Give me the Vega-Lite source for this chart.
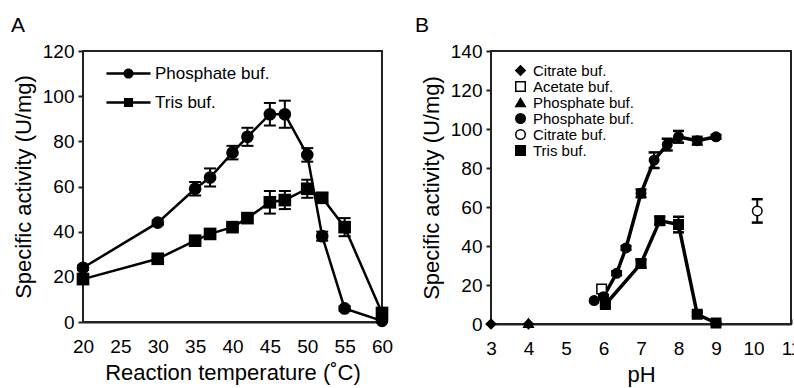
{
  "$schema": "https://vega.github.io/schema/vega-lite/v6.json",
  "padding": {"left": 10, "top": 14, "right": 8, "bottom": 4},
  "spacing": 20,
  "config": {
    "font": "Liberation Sans",
    "view": {"stroke": "#222222", "strokeWidth": 2},
    "axis": {"grid": false, "domain": true, "domainColor": "#222222", "domainWidth": 2, "ticks": true, "tickColor": "#222222", "tickWidth": 2, "labelOverlap": false, "labelFont": "Liberation Sans", "labelFontSize": 19, "labelColor": "black", "titleFont": "Liberation Sans", "titleFontSize": 22, "titleFontWeight": "normal", "titleColor": "black"},
    "title": {"fontSize": 21, "fontWeight": "normal", "anchor": "start", "frame": "group", "color": "black", "font": "Liberation Sans"}
  },
  "resolve": {"scale": {"shape": "independent", "fill": "independent", "stroke": "independent"}, "legend": {"shape": "independent", "fill": "independent", "stroke": "independent"}},
  "hconcat": [
    {
      "width": 299,
      "height": 271,
      "title": {"text": "A", "dx": -72, "offset": 6},
      "data": {"values": [
        {"s": "Phosphate buf.", "T": 20, "v": 24, "lo": 23, "hi": 25},
        {"s": "Phosphate buf.", "T": 30, "v": 44, "lo": 43, "hi": 45},
        {"s": "Phosphate buf.", "T": 35, "v": 59, "lo": 56, "hi": 62},
        {"s": "Phosphate buf.", "T": 37, "v": 64, "lo": 60, "hi": 68},
        {"s": "Phosphate buf.", "T": 40, "v": 75, "lo": 72, "hi": 78},
        {"s": "Phosphate buf.", "T": 42, "v": 82, "lo": 78, "hi": 86},
        {"s": "Phosphate buf.", "T": 45, "v": 92, "lo": 87, "hi": 97},
        {"s": "Phosphate buf.", "T": 47, "v": 92, "lo": 86, "hi": 98},
        {"s": "Phosphate buf.", "T": 50, "v": 74, "lo": 71, "hi": 77},
        {"s": "Phosphate buf.", "T": 52, "v": 38, "lo": 36, "hi": 40},
        {"s": "Phosphate buf.", "T": 55, "v": 6, "lo": 5, "hi": 7},
        {"s": "Phosphate buf.", "T": 60, "v": 0.5, "lo": 0, "hi": 1},
        {"s": "Tris buf.", "T": 20, "v": 19, "lo": 18, "hi": 20},
        {"s": "Tris buf.", "T": 30, "v": 28, "lo": 27, "hi": 29},
        {"s": "Tris buf.", "T": 35, "v": 36, "lo": 35, "hi": 37},
        {"s": "Tris buf.", "T": 37, "v": 39, "lo": 38, "hi": 40},
        {"s": "Tris buf.", "T": 40, "v": 42, "lo": 41, "hi": 43},
        {"s": "Tris buf.", "T": 42, "v": 46, "lo": 45, "hi": 47},
        {"s": "Tris buf.", "T": 45, "v": 53, "lo": 48, "hi": 58},
        {"s": "Tris buf.", "T": 47, "v": 54, "lo": 50, "hi": 58},
        {"s": "Tris buf.", "T": 50, "v": 59, "lo": 55, "hi": 63},
        {"s": "Tris buf.", "T": 52, "v": 55, "lo": 53, "hi": 57},
        {"s": "Tris buf.", "T": 55, "v": 42, "lo": 38, "hi": 46},
        {"s": "Tris buf.", "T": 60, "v": 4, "lo": 3, "hi": 5}
      ]},
      "encoding": {
        "x": {"field": "T", "type": "quantitative", "scale": {"domain": [20, 60], "nice": false, "zero": false}, "axis": {"values": [20, 25, 30, 35, 40, 45, 50, 55, 60], "title": "Reaction temperature (˚C)", "grid": false, "domain": true, "domainColor": "#222222", "domainWidth": 2, "ticks": true, "tickColor": "#222222", "tickWidth": 2, "tickSize": -5, "labelPadding": 20, "titlePadding": 6, "labelFlush": false, "labelOverlap": false, "labelFont": "Liberation Sans", "labelFontSize": 19, "labelColor": "black", "titleFont": "Liberation Sans", "titleFontSize": 22, "titleFontWeight": "normal", "titleColor": "black"}},
        "y": {"field": "v", "type": "quantitative", "scale": {"domain": [0, 120], "nice": false}, "axis": {"values": [0, 20, 40, 60, 80, 100, 120], "title": "Specific activity (U/mg)", "grid": false, "domain": true, "domainColor": "#222222", "domainWidth": 2, "ticks": true, "tickColor": "#222222", "tickWidth": 2, "tickSize": 5, "labelPadding": 4, "titlePadding": 7, "labelOverlap": false, "labelFont": "Liberation Sans", "labelFontSize": 19, "labelColor": "black", "titleFont": "Liberation Sans", "titleFontSize": 22, "titleFontWeight": "normal", "titleColor": "black"}}
      },
      "resolve": {"scale": {"shape": "independent"}, "legend": {"shape": "independent"}},
      "layer": [
        {"mark": {"type": "rect", "fill": "white", "stroke": "#222222", "strokeWidth": 2},
         "encoding": {"x": {"datum": 20, "type": "quantitative"}, "x2": {"datum": 60}, "y": {"datum": 0, "type": "quantitative"}, "y2": {"datum": 120}}},
        {"mark": {"type": "line", "color": "black", "strokeWidth": 2.5},
         "encoding": {"detail": {"field": "s"}}},
        {"mark": {"type": "rule", "color": "black", "strokeWidth": 2},
         "encoding": {"y": {"field": "lo", "type": "quantitative"}, "y2": {"field": "hi"}}},
        {"mark": {"type": "point", "shape": "M-1,0H1", "filled": false, "stroke": "black", "strokeWidth": 2, "size": 144, "opacity": 1},
         "encoding": {"y": {"field": "lo", "type": "quantitative"}}},
        {"mark": {"type": "point", "shape": "M-1,0H1", "filled": false, "stroke": "black", "strokeWidth": 2, "size": 144, "opacity": 1},
         "encoding": {"y": {"field": "hi", "type": "quantitative"}}},
        {"mark": {"type": "point", "filled": true, "color": "black", "opacity": 1, "size": 160},
         "encoding": {
           "shape": {"field": "s", "type": "nominal", "scale": {"domain": ["Phosphate buf.", "Tris buf."], "range": ["circle", "square"]}, "legend": null}
         }},
        {"transform": [{"filter": "false"}],
         "mark": {"type": "point", "filled": true, "color": "black", "opacity": 1, "size": 196},
         "encoding": {
           "shape": {"field": "s", "type": "nominal",
             "scale": {"domain": ["Phosphate buf.", "Tris buf."], "range": ["M-3.15,-0.18H3.15V0.18H-3.15Z M0.72,0A0.72,0.72 0 1,1 -0.72,0A0.72,0.72 0 1,1 0.72,0Z", "M-3.15,-0.18H3.15V0.18H-3.15Z M-0.65,-0.65H0.65V0.65H-0.65Z"]},
             "legend": {"orient": "none", "legendX": 37, "legendY": 14, "title": null, "labelFont": "Liberation Sans", "labelFontSize": 17, "labelColor": "black", "symbolSize": 196, "labelOffset": 18, "rowPadding": 11, "symbolFillColor": "black", "symbolStrokeWidth": 0, "symbolOpacity": 1}}
         }}
      ]
    },
    {
      "width": 300,
      "height": 273,
      "title": {"text": "B", "dx": -76, "offset": 6},
      "data": {"values": [
        {"g": "c1", "pH": 3, "v": 0, "lo": 0, "hi": 0},
        {"g": "c1", "pH": 4, "v": 0, "lo": 0, "hi": 0},
        {"g": "p1", "pH": 4, "v": 0.5, "lo": 0.5, "hi": 0.5},
        {"g": "a", "pH": 5.95, "v": 18, "lo": 18, "hi": 18},
        {"g": "p2", "pH": 5.75, "v": 12, "lo": 12, "hi": 12},
        {"g": "p2", "pH": 6.0, "v": 14, "lo": 13, "hi": 15},
        {"g": "p2", "pH": 6.35, "v": 26, "lo": 25, "hi": 27},
        {"g": "p2", "pH": 6.6, "v": 39, "lo": 38, "hi": 40},
        {"g": "p2", "pH": 7.0, "v": 67, "lo": 65, "hi": 69},
        {"g": "p2", "pH": 7.35, "v": 84, "lo": 80, "hi": 88},
        {"g": "p2", "pH": 7.7, "v": 92, "lo": 89, "hi": 95},
        {"g": "p2", "pH": 8.0, "v": 96, "lo": 93, "hi": 99},
        {"g": "p2", "pH": 8.5, "v": 94, "lo": 92, "hi": 96},
        {"g": "p2", "pH": 9.0, "v": 96, "lo": 95, "hi": 97},
        {"g": "c2", "pH": 10.1, "v": 58, "lo": 52, "hi": 64},
        {"g": "t", "pH": 6.05, "v": 10, "lo": 9, "hi": 11},
        {"g": "t", "pH": 7.0, "v": 31, "lo": 29, "hi": 33},
        {"g": "t", "pH": 7.5, "v": 53, "lo": 51, "hi": 55},
        {"g": "t", "pH": 8.0, "v": 51, "lo": 47, "hi": 55},
        {"g": "t", "pH": 8.5, "v": 5, "lo": 4, "hi": 6},
        {"g": "t", "pH": 9.0, "v": 0.5, "lo": 0, "hi": 1}
      ]},
      "encoding": {
        "x": {"field": "pH", "type": "quantitative", "scale": {"domain": [3, 11], "nice": false, "zero": false}, "axis": {"values": [3, 4, 5, 6, 7, 8, 9, 10, 11], "title": "pH", "grid": false, "domain": true, "domainColor": "#222222", "domainWidth": 2, "ticks": true, "tickColor": "#222222", "tickWidth": 2, "tickSize": -5, "labelPadding": 20, "titlePadding": 6, "labelFlush": false, "labelOverlap": false, "labelFont": "Liberation Sans", "labelFontSize": 19, "labelColor": "black", "titleFont": "Liberation Sans", "titleFontSize": 22, "titleFontWeight": "normal", "titleColor": "black"}},
        "y": {"field": "v", "type": "quantitative", "scale": {"domain": [0, 140], "nice": false}, "axis": {"values": [0, 20, 40, 60, 80, 100, 120, 140], "title": "Specific activity (U/mg)", "grid": false, "domain": true, "domainColor": "#222222", "domainWidth": 2, "ticks": true, "tickColor": "#222222", "tickWidth": 2, "tickSize": 5, "labelPadding": 4, "titlePadding": 7, "labelOverlap": false, "labelFont": "Liberation Sans", "labelFontSize": 19, "labelColor": "black", "titleFont": "Liberation Sans", "titleFontSize": 22, "titleFontWeight": "normal", "titleColor": "black"}}
      },
      "layer": [
        {"mark": {"type": "rect", "fill": "white", "stroke": "#222222", "strokeWidth": 2},
         "encoding": {"x": {"datum": 3, "type": "quantitative"}, "x2": {"datum": 11}, "y": {"datum": 0, "type": "quantitative"}, "y2": {"datum": 140}}},
        {"transform": [{"filter": "datum.g === 'p2' || datum.g === 't'"}],
         "mark": {"type": "line", "color": "black", "strokeWidth": 3.5},
         "encoding": {"detail": {"field": "g"}}},
        {"transform": [{"filter": "datum.hi > datum.lo"}],
         "mark": {"type": "rule", "color": "black", "strokeWidth": 2},
         "encoding": {"y": {"field": "lo", "type": "quantitative"}, "y2": {"field": "hi"}}},
        {"transform": [{"filter": "datum.hi > datum.lo"}],
         "mark": {"type": "point", "shape": "M-1,0H1", "filled": false, "stroke": "black", "strokeWidth": 2.5, "size": 121, "opacity": 1},
         "encoding": {"y": {"field": "lo", "type": "quantitative"}}},
        {"transform": [{"filter": "datum.hi > datum.lo"}],
         "mark": {"type": "point", "shape": "M-1,0H1", "filled": false, "stroke": "black", "strokeWidth": 2.5, "size": 121, "opacity": 1},
         "encoding": {"y": {"field": "hi", "type": "quantitative"}}},
        {"mark": {"type": "point", "filled": true, "opacity": 1, "size": 90, "strokeWidth": 1.5},
         "encoding": {
           "shape": {"field": "g", "type": "nominal", "scale": {"domain": ["c1", "a", "p1", "p2", "c2", "t"], "range": ["diamond", "square", "triangle-up", "circle", "circle", "square"]},
             "legend": {"orient": "none", "legendX": 22, "legendY": 12, "title": null, "labelFont": "Liberation Sans", "labelFontSize": 15, "labelColor": "black", "symbolSize": 90, "labelOffset": 5, "rowPadding": -2, "symbolStrokeWidth": 1.5,
               "labelExpr": "{'c1': 'Citrate buf.', 'a': 'Acetate buf.', 'p1': 'Phosphate buf.', 'p2': 'Phosphate buf.', 'c2': 'Citrate buf.', 't': 'Tris buf.'}[datum.value]"}},
           "fill": {"field": "g", "type": "nominal", "scale": {"domain": ["c1", "a", "p1", "p2", "c2", "t"], "range": ["black", "white", "black", "black", "white", "black"]},
             "legend": {"orient": "none", "legendX": 22, "legendY": 12, "title": null, "labelFont": "Liberation Sans", "labelFontSize": 15, "labelColor": "black", "symbolSize": 90, "labelOffset": 5, "rowPadding": -2, "symbolStrokeWidth": 1.5,
               "labelExpr": "{'c1': 'Citrate buf.', 'a': 'Acetate buf.', 'p1': 'Phosphate buf.', 'p2': 'Phosphate buf.', 'c2': 'Citrate buf.', 't': 'Tris buf.'}[datum.value]"}},
           "stroke": {"field": "g", "type": "nominal", "scale": {"domain": ["c1", "a", "p1", "p2", "c2", "t"], "range": ["black", "black", "black", "black", "black", "black"]},
             "legend": {"orient": "none", "legendX": 22, "legendY": 12, "title": null, "labelFont": "Liberation Sans", "labelFontSize": 15, "labelColor": "black", "symbolSize": 90, "labelOffset": 5, "rowPadding": -2, "symbolStrokeWidth": 1.5,
               "labelExpr": "{'c1': 'Citrate buf.', 'a': 'Acetate buf.', 'p1': 'Phosphate buf.', 'p2': 'Phosphate buf.', 'c2': 'Citrate buf.', 't': 'Tris buf.'}[datum.value]"}}
         }}
      ]
    }
  ]
}
